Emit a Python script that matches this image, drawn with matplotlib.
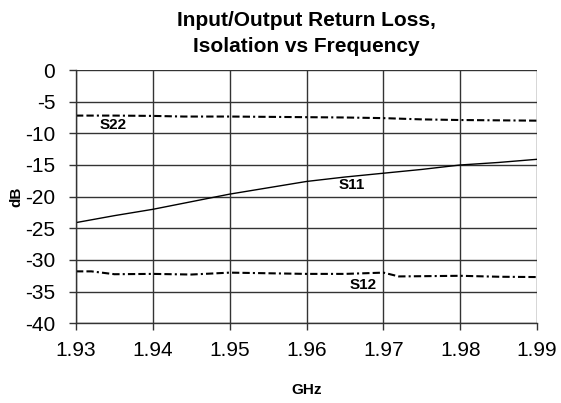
import matplotlib
matplotlib.use("Agg")
from matplotlib import pyplot as plt

#data
freq_s11 = [1.930, 1.935, 1.940, 1.945, 1.950, 1.955, 1.960, 1.965, 1.970, 1.975, 1.980, 1.985, 1.990]
s11 = [-24.1, -23.0, -22.0, -20.8, -19.6, -18.6, -17.6, -16.9, -16.3, -15.7, -15.0, -14.6, -14.1]

freq_s22 = [1.930, 1.935, 1.940, 1.944, 1.950, 1.955, 1.960, 1.965, 1.970, 1.975, 1.980, 1.985, 1.990]
s22 = [-7.2, -7.2, -7.25, -7.35, -7.35, -7.4, -7.45, -7.5, -7.6, -7.8, -7.9, -7.95, -8.0]

freq_s12 = [1.930, 1.932, 1.935, 1.940, 1.945, 1.950, 1.955, 1.960, 1.965, 1.970, 1.972, 1.980, 1.985, 1.990]
s12 = [-31.8, -31.8, -32.25, -32.2, -32.3, -32.0, -32.1, -32.2, -32.2, -32.0, -32.6, -32.5, -32.65, -32.7]

x_ticks = [1.93, 1.94, 1.95, 1.96, 1.97, 1.98, 1.99]
y_ticks = [0, -5, -10, -15, -20, -25, -30, -35, -40]

plt.rcParams['font.family'] = ['Liberation Sans', 'DejaVu Sans']

fig = plt.figure(figsize=(5.61, 4.03), dpi=100)
ax = fig.add_axes([0.1355, 0.1978, 0.822, 0.6285])

dash = (0, (3.5, 1.5, 3.5, 1.5, 1, 1.5))
ax.plot(freq_s11, s11, color='black', lw=1.0)
ax.plot(freq_s22, s22, color='black', lw=1.5, linestyle=dash)
ax.plot(freq_s12, s12, color='black', lw=1.5, linestyle=dash)

#series labels
ax.text(1.9348, -8.7, 'S22', fontsize=11, fontweight='bold', ha='center', va='center')
ax.text(1.9659, -18.1, 'S11', fontsize=11, fontweight='bold', ha='center', va='center')
ax.text(1.9673, -34.0, 'S12', fontsize=11, fontweight='bold', ha='center', va='center')

ax.set_xlim(1.93, 1.99)
ax.set_ylim(-40, 0)
ax.set_xticks(x_ticks)
ax.set_xticklabels([f"{t:.2f}" for t in x_ticks])
ax.set_yticks(y_ticks)
ax.set_yticklabels([str(t) for t in y_ticks])
ax.tick_params(direction='out', length=5, width=1, color='#333333', labelsize=15)
ax.tick_params(axis='x', pad=8)
ax.tick_params(axis='y', pad=10)

ax.grid(True, color='#333333', lw=1.0)
ax.set_axisbelow(True)
for side in ['top', 'right']:
    ax.spines[side].set_visible(False)
for side in ['left', 'bottom']:
    ax.spines[side].set_color('#333333')
    ax.spines[side].set_linewidth(1.0)

ax.set_title("Input/Output Return Loss,\nIsolation vs Frequency", fontsize=15,
             fontweight='bold', linespacing=1.45, pad=13)
ax.set_xlabel('GHz', fontsize=11, fontweight='bold', labelpad=16)
ax.set_ylabel('dB', fontsize=11, fontweight='bold', labelpad=1)

fig.savefig('out.png', dpi=100)
